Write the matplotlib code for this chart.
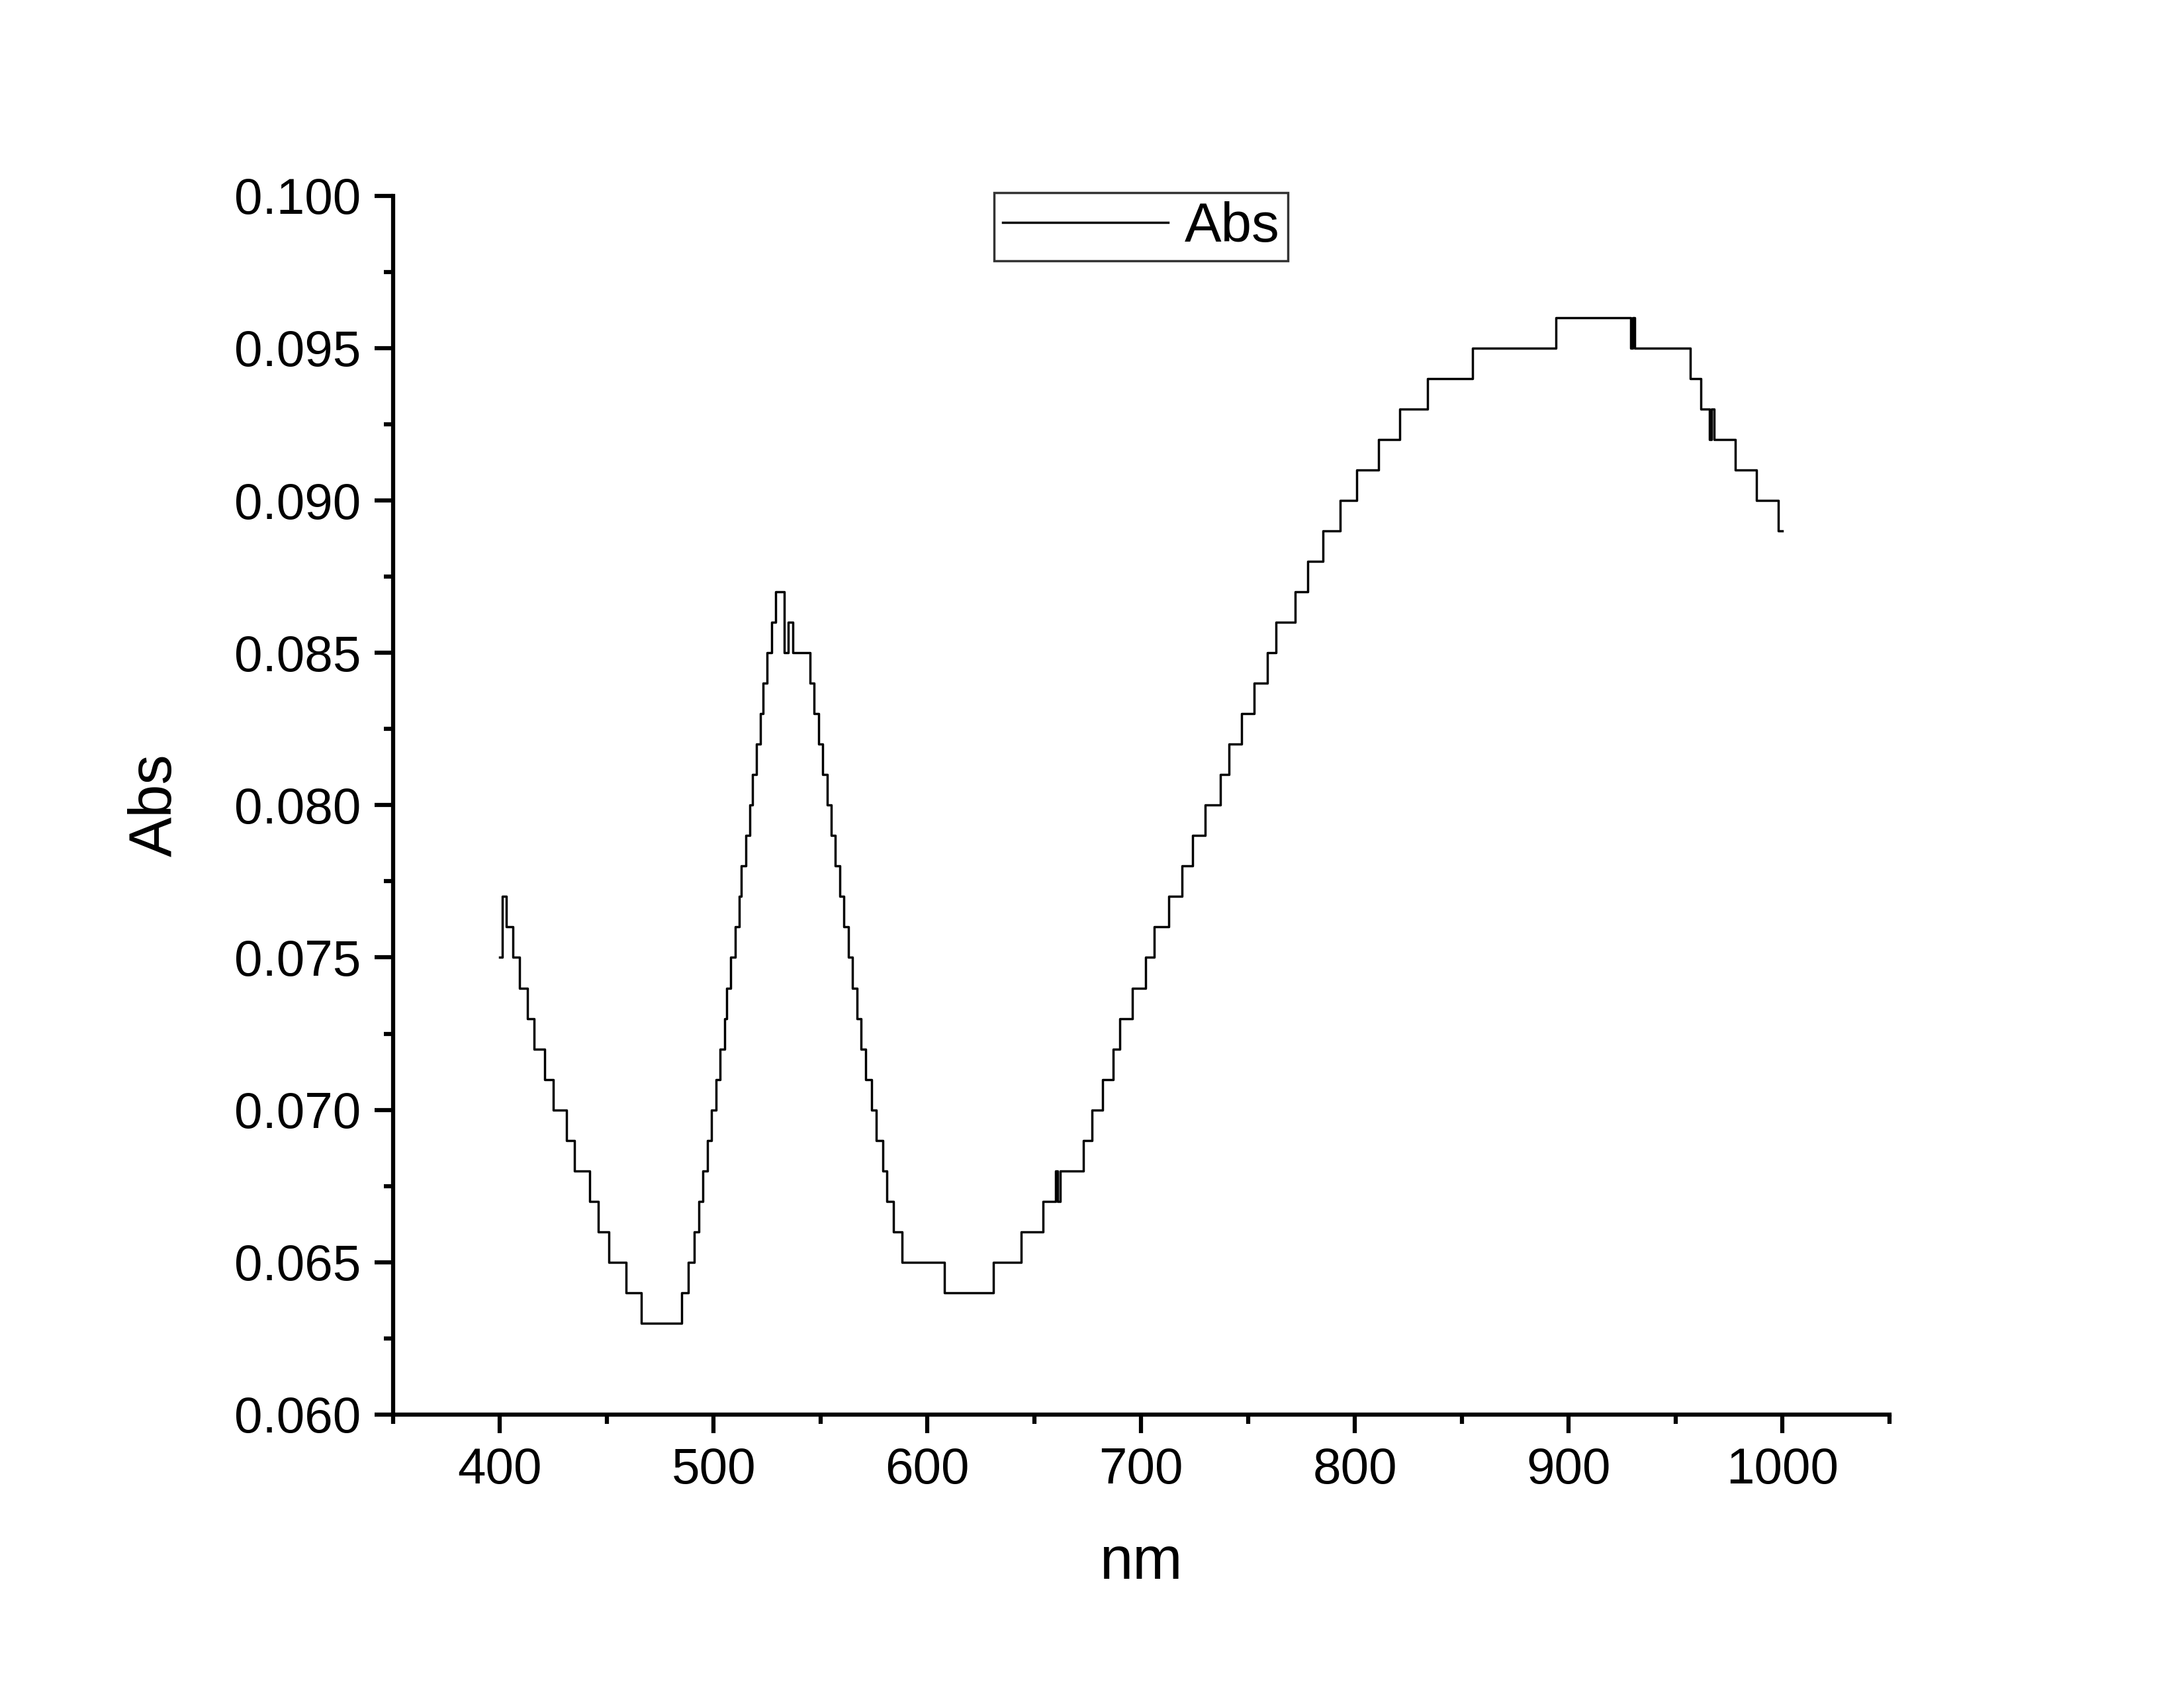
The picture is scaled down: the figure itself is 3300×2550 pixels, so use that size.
import numpy as np
import matplotlib.pyplot as plt
from matplotlib.ticker import MultipleLocator

plt.rcParams['font.family'] = ['Liberation Sans', 'DejaVu Sans']

# wavelength (nm) where the reading changes, and the reading from there on
nm = [400, 401, 403, 406, 409, 413, 416, 421, 425, 431, 435, 442, 446, 451, 459, 466,
      485, 488, 491, 493, 495, 497, 499, 501, 503, 505, 506, 508, 510, 512, 513, 515,
      517, 518, 520, 522, 523, 525, 527, 529, 533, 535, 537,
      545, 547, 549, 551, 553, 555, 557, 559, 561, 563, 565, 567, 569, 571, 574, 576,
      579, 581, 584, 588, 608, 631, 644, 654, 660, 661, 662, 667,
      673, 677, 682, 687, 690, 696, 702, 706, 713, 719, 724, 730, 737, 741, 747, 753,
      759, 763, 772, 778, 785, 793, 801, 811, 821, 834, 855, 894, 929, 930, 931, 933,
      957, 962, 966, 967, 968, 969, 978, 988, 998, 1000]
abs_val = [0.075, 0.077, 0.076, 0.075, 0.074, 0.073, 0.072, 0.071, 0.070, 0.069, 0.068, 0.067, 0.066, 0.065, 0.064, 0.063,
           0.064, 0.065, 0.066, 0.067, 0.068, 0.069, 0.070, 0.071, 0.072, 0.073, 0.074, 0.075, 0.076, 0.077, 0.078, 0.079,
           0.080, 0.081, 0.082, 0.083, 0.084, 0.085, 0.086, 0.087, 0.085, 0.086, 0.085,
           0.084, 0.083, 0.082, 0.081, 0.080, 0.079, 0.078, 0.077, 0.076, 0.075, 0.074, 0.073, 0.072, 0.071, 0.070, 0.069,
           0.068, 0.067, 0.066, 0.065, 0.064, 0.065, 0.066, 0.067, 0.068, 0.067, 0.068, 0.068,
           0.069, 0.070, 0.071, 0.072, 0.073, 0.074, 0.075, 0.076, 0.077, 0.078, 0.079, 0.080, 0.081, 0.082, 0.083, 0.084,
           0.085, 0.086, 0.087, 0.088, 0.089, 0.090, 0.091, 0.092, 0.093, 0.094, 0.095, 0.096, 0.095, 0.096, 0.095, 0.095,
           0.094, 0.093, 0.092, 0.093, 0.092, 0.092, 0.091, 0.090, 0.089, 0.089]

fig = plt.figure(figsize=(13.2, 10.2), dpi=250)
ax = fig.add_axes([0.18, 0.162, 0.685, 0.722])
ax.plot(nm, abs_val, color='k', lw=1.0, drawstyle='steps-post', label='Abs')

ax.set_xlim(350, 1050)
ax.set_ylim(0.060, 0.100)
ax.xaxis.set_major_locator(MultipleLocator(100))
ax.xaxis.set_minor_locator(MultipleLocator(50))
ax.yaxis.set_major_locator(MultipleLocator(0.005))
ax.yaxis.set_minor_locator(MultipleLocator(0.0025))
ax.set_xticks([400, 500, 600, 700, 800, 900, 1000])
ax.yaxis.set_major_formatter(plt.FormatStrFormatter('%.3f'))
for s in ['top', 'right']:
    ax.spines[s].set_visible(False)
for s in ['left', 'bottom']:
    ax.spines[s].set_linewidth(1.8)
ax.tick_params(which='major', direction='out', length=8, width=1.8, labelsize=22, pad=6)
ax.tick_params(which='minor', direction='out', length=4, width=1.8)
ax.set_xlabel('nm', fontsize=26, labelpad=18)
ax.set_ylabel('Abs', fontsize=26, labelpad=22)

leg = ax.legend(loc='upper center', bbox_to_anchor=(0.5, 1.025), fontsize=24, fancybox=False,
                edgecolor='k', handlelength=3, borderpad=0.15, handletextpad=0.3)
leg.get_frame().set_linewidth(1.0)

fig.savefig('out.png')
